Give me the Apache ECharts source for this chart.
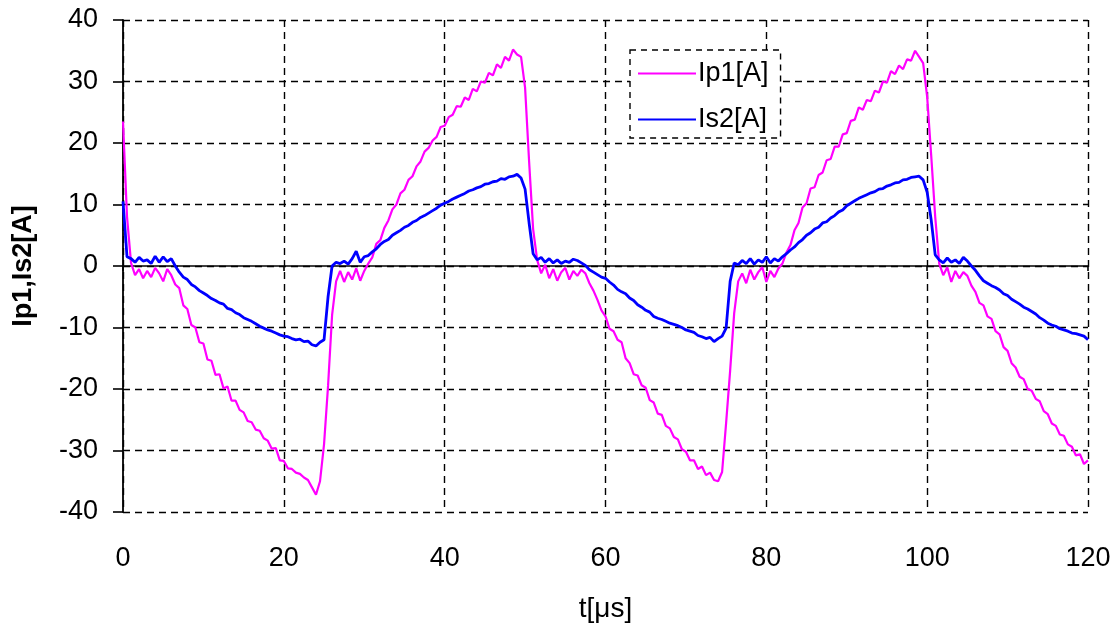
<!DOCTYPE html>
<html>
<head>
<meta charset="utf-8">
<script src="https://cdn.jsdelivr.net/npm/echarts@6/dist/echarts.min.js"></script>
<style>
html,body{margin:0;padding:0;background:#fff;}
#chart{width:1119px;height:634px;}
</style>
</head>
<body>
<div id="chart"></div>
<script>
// sampling step of the traces [µs]
const tStep = 0.5;
const xTicks = [0, 20, 40, 60, 80, 100, 120];
const yTicks = [-40, -30, -20, -10, 0, 10, 20, 30, 40];
const seriesNames = ['Ip1[A]', 'Is2[A]'];

// Ip1 [A], one value every 0.5 µs from 0 to 120 µs
const ip1 = [
  23.5, 8, 0.5, -1.5, -0.5, -2.0, -0.8, -1.8, -0.3, -1.2,
  -2.5, -0.5, -1.5, -3.0, -3.6, -6.4, -7.0, -9.6, -10.0, -12.4,
  -12.6, -15.2, -15.4, -17.7, -17.6, -19.9, -19.6, -21.9, -21.9, -23.4,
  -23.8, -25.2, -25.4, -26.6, -26.8, -28.0, -28.4, -29.7, -29.6, -31.6,
  -31.7, -32.9, -33.0, -33.6, -33.8, -34.4, -34.8, -36.0, -37.2, -35.0,
  -29.0, -19.5, -8.0, -2.5, -0.8, -2.6, -1.0, -2.2, -0.4, -2.4,
  -0.8, 0.4, 1.4, 3.6, 4.2, 6.2, 7.4, 9.2, 10.0, 11.8,
  12.4, 14.0, 14.6, 16.2, 17.0, 18.6, 19.2, 20.4, 21.0, 22.6,
  22.8, 24.2, 24.6, 26.0, 25.9, 27.4, 27.0, 28.8, 28.4, 30.0,
  29.8, 31.4, 31.0, 32.8, 32.2, 34.0, 33.4, 35.2, 34.4, 34.0,
  29.0, 17.0, 6.0, 1.0, -1.2, 0.2, -2.0, -0.5, -2.4, -1.0,
  -0.3, -2.2, -0.8, -1.6, -0.6, -1.2, -2.8, -4.0, -5.5, -7.2,
  -8.2, -10.2, -10.6, -12.0, -12.4, -15.0, -15.8, -17.6, -17.8, -19.4,
  -19.8, -21.8, -22.2, -24.0, -24.2, -26.0, -26.4, -27.8, -28.2, -29.8,
  -30.2, -31.6, -31.6, -33.0, -32.6, -34.0, -33.6, -34.8, -35.0, -33.5,
  -25.5, -17.0, -7.7, -2.5, -1.2, -2.8, -0.6, -2.2, -1.0, -0.2,
  -2.6, -0.8, -1.8, -0.4, 0.4, 2.2, 3.4, 5.8, 7.0, 9.5,
  10.2, 12.6, 12.8, 14.8, 15.2, 17.2, 17.4, 19.4, 19.4, 21.4,
  21.6, 23.6, 23.8, 25.8, 25.4, 27.0, 26.8, 28.5, 28.2, 30.0,
  29.8, 31.7, 31.2, 32.6, 32.0, 33.6, 33.4, 35.0, 34.0, 33.0,
  27.5, 18.0, 8.0, 0.4, -1.5, -0.2, -2.6, -0.8, -2.0, -1.0,
  -1.6, -3.2, -4.2, -6.0, -6.4, -8.2, -8.6, -10.6, -11.1, -13.2,
  -13.8, -15.8, -16.5, -18.0, -18.4, -20.0, -20.3, -21.6, -22.0, -23.6,
  -24.1, -25.6, -26.0, -27.4, -27.6, -29.0, -29.4, -30.8, -30.6, -32.2,
  -31.6
];

// Is2 [A], one value every 0.5 µs from 0 to 120 µs
const is2 = [
  10.5, 1.5, 1.2, 0.6, 1.4, 0.8, 1.0, 0.4, 1.6, 0.6,
  1.5, 0.7, 1.2, 0.0, -1.0, -1.8, -2.2, -3.0, -3.4, -4.0,
  -4.4, -4.8, -5.3, -5.6, -6.0, -6.2, -6.9, -7.1, -7.6, -7.9,
  -8.4, -8.7, -9.0, -9.4, -9.8, -10.1, -10.4, -10.6, -10.9, -11.2,
  -11.4, -11.5, -11.8, -12.0, -11.9, -12.3, -12.2, -12.8, -13.0, -12.4,
  -12.0, -5.0, 0.0, 0.6, 0.4, 0.8, 0.3, 1.2, 2.4, 0.6,
  1.5, 1.7, 2.3, 2.8, 3.5, 4.0, 4.3, 5.0, 5.4, 5.8,
  6.3, 6.6, 7.1, 7.4, 7.9, 8.2, 8.6, 9.0, 9.4, 9.9,
  10.2, 10.5, 10.9, 11.2, 11.5, 11.8, 12.2, 12.4, 12.7, 12.9,
  13.3, 13.4, 13.7, 13.8, 14.2, 14.1, 14.5, 14.6, 14.9, 14.3,
  12.5, 7.0, 2.0, 1.0, 1.4, 0.6, 1.2, 0.5, 1.0, 0.4,
  0.8, 0.6, 1.1, 0.9, 0.5, 0.1, -0.6, -1.0, -1.4, -1.8,
  -2.0, -2.6, -3.1, -3.8, -4.2, -4.5, -5.2, -5.6, -6.3, -6.7,
  -7.2, -7.5, -8.2, -8.5, -8.7, -9.0, -9.3, -9.5, -9.7, -10.0,
  -10.4, -10.6, -10.8, -11.3, -11.5, -11.8, -11.6, -12.3, -11.8, -11.4,
  -10.1, -2.5, 0.5, 0.2, 0.9, 0.4, 1.2, 0.3, 1.0, 0.6,
  1.5, 0.5, 1.2, 0.8, 1.5, 2.0, 2.6, 3.1, 3.8, 4.3,
  5.0, 5.4, 6.0, 6.3, 7.0, 7.2, 7.8, 8.2, 8.8, 9.1,
  9.8, 10.2, 10.6, 11.0, 11.3, 11.6, 11.9, 12.1, 12.5, 12.6,
  13.0, 13.2, 13.5, 13.6, 14.0, 14.1, 14.4, 14.5, 14.6, 14.0,
  12.0, 7.5, 1.8, 1.0, 0.5, 1.3, 0.6, 1.0, 0.4, 1.4,
  0.8, 0.0, -0.7, -1.6, -2.4, -2.8, -3.2, -3.5, -3.9, -4.5,
  -4.8, -5.4, -5.8, -6.2, -6.7, -7.0, -7.4, -7.8, -8.4, -8.8,
  -9.3, -9.6, -9.8, -10.2, -10.4, -10.6, -10.9, -11.0, -11.2, -11.4,
  -12.0
];

const FONT = "'Liberation Sans', Arial, sans-serif";
const toPairs = arr => arr.map((v, i) => [i * tStep, v]);
const dash = { color: '#000', width: 1.4, type: [7, 5] };

const chart = echarts.init(document.getElementById('chart'), null, { renderer: 'canvas' });
chart.setOption({
  animation: false,
  backgroundColor: '#fff',
  textStyle: { fontFamily: FONT, color: '#000' },
  grid: { left: 123, right: 31, top: 20, bottom: 122, containLabel: false, outerBoundsMode: 'none' },
  legend: {
    data: seriesNames,
    orient: 'vertical',
    left: 630,
    top: 50,
    padding: [10, 12, 5, 8],
    itemGap: 19,
    itemWidth: 58,
    itemHeight: 2,
    icon: 'rect',
    backgroundColor: '#fff',
    borderColor: '#000',
    borderWidth: 1.4,
    borderType: [6, 5],
    textStyle: { fontFamily: FONT, fontSize: 27, color: '#000', padding: [0, 0, 0, -3] }
  },
  xAxis: [
    {
      type: 'value', min: xTicks[0], max: xTicks[xTicks.length - 1], interval: 20,
      position: 'bottom',
      name: 't[\u03bcs]', nameLocation: 'middle', nameGap: 83,
      nameTextStyle: { fontFamily: FONT, fontSize: 28, color: '#000' },
      axisLine: { show: false, onZero: false },
      axisTick: { show: false },
      axisLabel: { fontFamily: FONT, fontSize: 27, color: '#000', margin: 33 },
      splitLine: { show: true, lineStyle: dash }
    },
    {
      type: 'value', min: xTicks[0], max: xTicks[xTicks.length - 1], interval: 20,
      position: 'bottom',
      axisLine: { show: true, onZero: true, lineStyle: { color: '#000', width: 1.6 } },
      axisTick: { show: true, length: 5, inside: false, lineStyle: { color: '#000', width: 1.6 } },
      axisLabel: { show: false },
      splitLine: { show: false }
    }
  ],
  yAxis: {
    type: 'value', min: yTicks[0], max: yTicks[yTicks.length - 1], interval: 10,
    name: 'Ip1,Is2[A]', nameLocation: 'middle', nameGap: 86,
    nameTextStyle: { fontFamily: FONT, fontSize: 27, fontWeight: 'bold', color: '#000' },
    axisLine: { show: true, onZero: false, lineStyle: { color: '#000', width: 1.8 } },
    axisTick: { show: true, length: 10, inside: false, lineStyle: { color: '#000', width: 1.6 } },
    axisLabel: { fontFamily: FONT, fontSize: 27, color: '#000', margin: 25 },
    splitLine: { show: true, lineStyle: dash }
  },
  series: [
    {
      name: seriesNames[0], type: 'line', xAxisIndex: 0, data: toPairs(ip1),
      showSymbol: false, symbol: 'none', z: 3,
      lineStyle: { color: '#ff00ff', width: 2.2 }, itemStyle: { color: '#ff00ff' }
    },
    {
      name: seriesNames[1], type: 'line', xAxisIndex: 0, data: toPairs(is2),
      showSymbol: false, symbol: 'none', z: 4,
      lineStyle: { color: '#0000ff', width: 2.8 }, itemStyle: { color: '#0000ff' }
    }
  ]
});
</script>
</body>
</html>
